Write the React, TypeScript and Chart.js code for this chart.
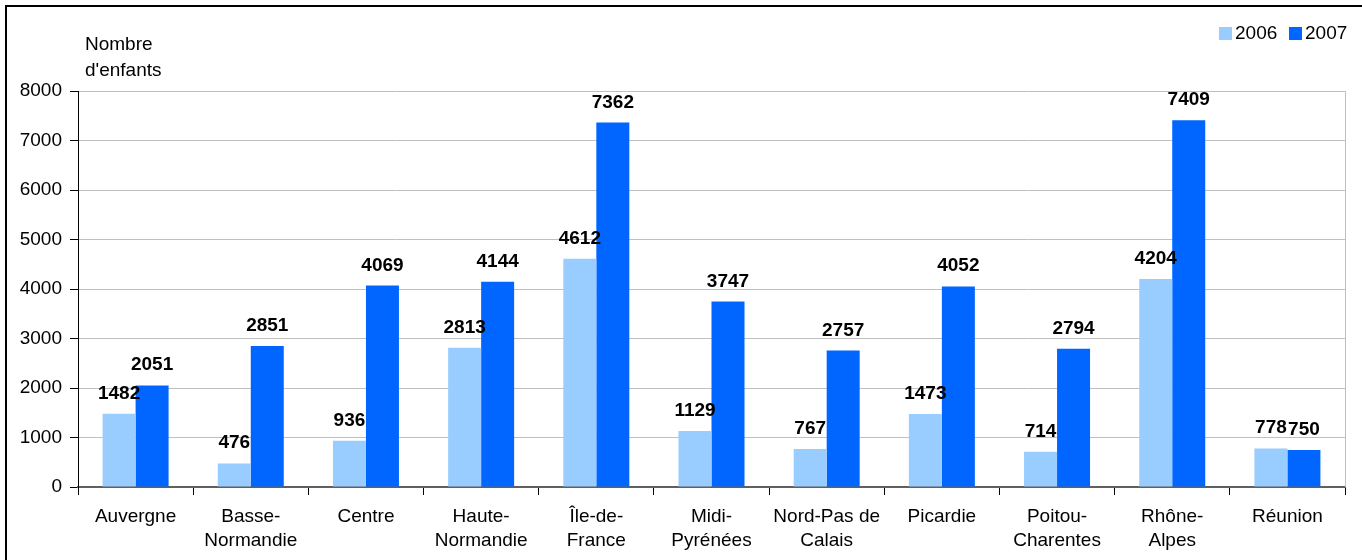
import React, { useEffect, useRef } from "react";
import { Chart, registerables } from "chart.js";

Chart.register(...registerables);

const categories: string[][] = [
  ["Auvergne"],
  ["Basse-", "Normandie"],
  ["Centre"],
  ["Haute-", "Normandie"],
  ["Île-de-", "France"],
  ["Midi-", "Pyrénées"],
  ["Nord-Pas de", "Calais"],
  ["Picardie"],
  ["Poitou-", "Charentes"],
  ["Rhône-", "Alpes"],
  ["Réunion"],
];
const values2006 = [1482, 476, 936, 2813, 4612, 1129, 767, 1473, 714, 4204, 778];
const values2007 = [2051, 2851, 4069, 4144, 7362, 3747, 2757, 4052, 2794, 7409, 750];
const seriesNames = ["2006", "2007"];
const seriesColors = ["#99CCFF", "#0066FF"];
const axisTitle = ["Nombre", "d'enfants"];

const FONT = "Arial, 'Liberation Sans', sans-serif";
const FS = 19;

const extrasPlugin = {
  id: "extras",
  afterDatasetsDraw(chart: any) {
    const ctx = chart.ctx;
    const area = chart.chartArea;
    ctx.save();
    // right border of plot area
    ctx.strokeStyle = "#C0C0C0";
    ctx.lineWidth = 1;
    ctx.beginPath();
    ctx.moveTo(area.right + 0.5, area.top);
    ctx.lineTo(area.right + 0.5, area.bottom);
    ctx.stroke();
    // data labels
    ctx.fillStyle = "#000";
    ctx.font = `bold ${FS}px ${FONT}`;
    ctx.textAlign = "center";
    ctx.textBaseline = "alphabetic";
    chart.data.datasets.forEach((ds: any, di: number) => {
      const meta = chart.getDatasetMeta(di);
      meta.data.forEach((bar: any, i: number) => {
        ctx.fillText(String(ds.data[i]), bar.x, bar.y - 15);
      });
    });
    // axis title
    ctx.font = `${FS}px ${FONT}`;
    ctx.textAlign = "left";
    ctx.textBaseline = "middle";
    ctx.fillText(axisTitle[0], 85, 45);
    ctx.fillText(axisTitle[1], 85, 71);
    // legend
    const legendY = 33;
    let x = 1219;
    chart.data.datasets.forEach((ds: any) => {
      ctx.fillStyle = ds.backgroundColor;
      ctx.fillRect(x, legendY - 6, 13, 13);
      ctx.fillStyle = "#000";
      ctx.fillText(ds.label, x + 16, legendY + 1);
      x += 70;
    });
    ctx.restore();
  },
};

export default function App() {
  const ref = useRef<HTMLCanvasElement | null>(null);
  useEffect(() => {
    if (!ref.current) return;
    const chart = new Chart(ref.current, {
      type: "bar",
      data: {
        labels: categories,
        datasets: [
          { label: seriesNames[0], data: values2006, backgroundColor: seriesColors[0] },
          { label: seriesNames[1], data: values2007, backgroundColor: seriesColors[1] },
        ],
      },
      options: {
        responsive: false,
        animation: false,
        devicePixelRatio: 1,
        layout: { padding: { left: 0, right: 17, top: 91, bottom: 0 } },
        datasets: { bar: { categoryPercentage: 0.573, barPercentage: 1 } },
        plugins: { legend: { display: false }, tooltip: { enabled: false }, title: { display: false } },
        scales: {
          x: {
            afterFit: (s: any) => { s.height = 73; },
            grid: { offset: true, drawOnChartArea: false, color: "#000", tickLength: 8 },
            border: { color: "#606060", width: 2 },
            ticks: { color: "#000", font: { family: FONT, size: FS, lineHeight: 1.25 }, padding: 10, maxRotation: 0, autoSkip: false },
          },
          y: {
            min: 0,
            max: 8000,
            afterFit: (s: any) => { s.width = 78; },
            grid: { color: "#C0C0C0", tickColor: "#000", tickLength: 8 },
            border: { color: "#000", width: 1 },
            ticks: {
              stepSize: 1000,
              color: "#000",
              font: { family: FONT, size: FS },
              padding: 8,
              callback: (v: any) => String(v),
            },
          },
        },
      },
      plugins: [extrasPlugin],
    } as any);
    return () => chart.destroy();
  }, []);
  return (
    <div style={{ position: "fixed", left: 0, top: 0, width: 1362, height: 560, background: "#fff", overflow: "hidden" }}>
      <div style={{ position: "absolute", left: 5, top: 5, width: 1400, height: 700, border: "2px solid #000", boxSizing: "border-box" }} />
      <canvas ref={ref} width={1362} height={560} style={{ position: "absolute", left: 0, top: 0 }} />
    </div>
  );
}
